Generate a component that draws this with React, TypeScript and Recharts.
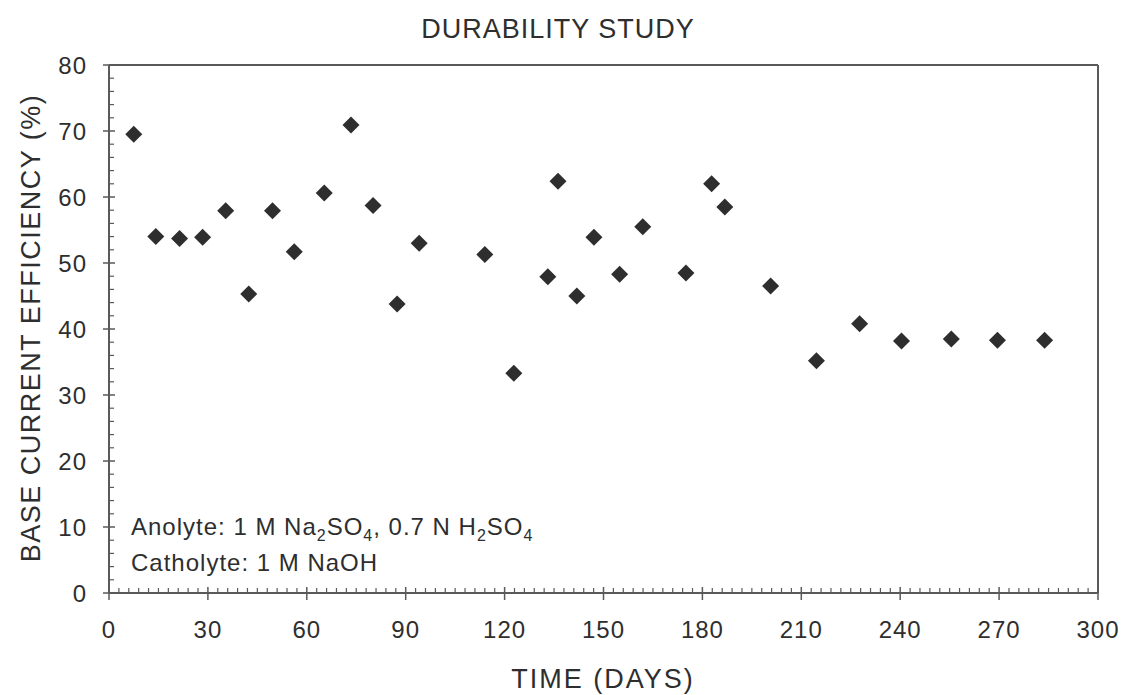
import React from 'react';
import {
  ScatterChart,
  Scatter,
  XAxis,
  YAxis,
  ReferenceLine,
} from 'recharts';

// time in days and base current efficiency (%)
const days = [
  7.5, 14.2, 21.4, 28.4, 35.4, 42.4, 49.6, 56.2, 65.3, 73.4, 80.1, 87.4, 94.1,
  114.0, 122.8, 133.1, 136.2, 141.9, 147.1, 154.9, 161.9, 175.0, 182.8, 186.8,
  200.7, 214.6, 227.7, 240.4, 255.5, 269.5, 283.8,
];
const efficiency = [
  69.5, 54.0, 53.7, 53.9, 57.9, 45.3, 57.9, 51.7, 60.6, 70.9, 58.7, 43.8, 53.0,
  51.3, 33.3, 47.9, 62.4, 45.0, 53.9, 48.3, 55.5, 48.5, 62.0, 58.5,
  46.5, 35.2, 40.8, 38.2, 38.5, 38.3, 38.3,
];

const xTicks = Array.from({ length: 101 }, (_, i) => i * 3);
const yTicks = Array.from({ length: 41 }, (_, i) => i * 2);

const points = days.map((d, i) => ({ day: d, eff: efficiency[i] }));

const FONT = '"Liberation Sans", Arial, sans-serif';
const AXIS = '#5a5a5a';
const INK = '#2e2e2e';

const XTick = ({ x, y, payload }: any) => {
  const major = payload.value % 30 === 0;
  return (
    <g>
      {major ? (
        <line x1={x} x2={x} y1={y - 6} y2={y + 7} stroke={AXIS} strokeWidth={1.5} />
      ) : (
        <line x1={x} x2={x} y1={y - 5} y2={y} stroke={AXIS} strokeWidth={1.2} />
      )}
      {major && (
        <text x={x} y={y + 45} textAnchor="middle" fontSize={24} letterSpacing={1} fill={INK} fontFamily={FONT}>
          {payload.value}
        </text>
      )}
    </g>
  );
};

const YTick = ({ x, y, payload }: any) => {
  const major = payload.value % 10 === 0;
  return (
    <g>
      {major ? (
        <line x1={x - 6} x2={x + 6} y1={y} y2={y} stroke={AXIS} strokeWidth={1.5} />
      ) : (
        <line x1={x} x2={x + 5} y1={y} y2={y} stroke={AXIS} strokeWidth={1.2} />
      )}
      {major && (
        <text x={x - 22} y={y + 9} textAnchor="end" fontSize={24} letterSpacing={1} fill={INK} fontFamily={FONT}>
          {payload.value}
        </text>
      )}
    </g>
  );
};

const Diamond = ({ cx, cy }: any) => (
  <path
    d={`M${cx},${cy - 8.5} L${cx + 8.5},${cy} L${cx},${cy + 8.5} L${cx - 8.5},${cy} Z`}
    fill={INK}
  />
);

const SUB = 6;

const App: React.FC = () => {
  return (
    <div style={{ position: 'absolute', left: 0, top: 0, width: 1121, height: 695, background: '#fff' }}>
      <ScatterChart
        width={1121}
        height={695}
        margin={{ top: 65, right: 23, bottom: 42, left: 49 }}
      >
        <XAxis
          type="number"
          dataKey="day"
          domain={[0, 300]}
          ticks={xTicks}
          interval={0}
          height={60}
          tickSize={0}
          tickMargin={0}
          tick={<XTick />}
          axisLine={{ stroke: AXIS, strokeWidth: 2 }}
          tickLine={false}
        />
        <YAxis
          type="number"
          dataKey="eff"
          domain={[0, 80]}
          ticks={yTicks}
          interval={0}
          width={60}
          tickSize={0}
          tickMargin={0}
          tick={<YTick />}
          axisLine={{ stroke: AXIS, strokeWidth: 2 }}
          tickLine={false}
        />
        <ReferenceLine y={80} stroke={AXIS} strokeWidth={2} />
        <ReferenceLine x={300} stroke={AXIS} strokeWidth={2} />
        <Scatter data={points} shape={<Diamond />} isAnimationActive={false} />
      </ScatterChart>

      <svg
        width={1121}
        height={695}
        style={{ position: 'absolute', left: 0, top: 0, pointerEvents: 'none' }}
        fontFamily={FONT}
        fill={INK}
      >
        <text x={558} y={38} textAnchor="middle" fontSize={27} letterSpacing={1}>
          DURABILITY STUDY
        </text>
        <text x={603} y={688} textAnchor="middle" fontSize={27} letterSpacing={2}>
          TIME (DAYS)
        </text>
        <text
          transform="translate(40,328) rotate(-90)"
          textAnchor="middle"
          fontSize={27}
          letterSpacing={1.5}
        >
          BASE CURRENT EFFICIENCY (%)
        </text>
        <text x={131} y={535} fontSize={24} letterSpacing={1}>
          <tspan>Anolyte: 1 M Na</tspan>
          <tspan dy={SUB} fontSize={16}>2</tspan>
          <tspan dy={-SUB}>SO</tspan>
          <tspan dy={SUB} fontSize={16}>4</tspan>
          <tspan dy={-SUB}>, 0.7 N H</tspan>
          <tspan dy={SUB} fontSize={16}>2</tspan>
          <tspan dy={-SUB}>SO</tspan>
          <tspan dy={SUB} fontSize={16}>4</tspan>
        </text>
        <text x={131} y={571} fontSize={24} letterSpacing={1}>
          Catholyte: 1 M NaOH
        </text>
      </svg>
    </div>
  );
};

export default App;
